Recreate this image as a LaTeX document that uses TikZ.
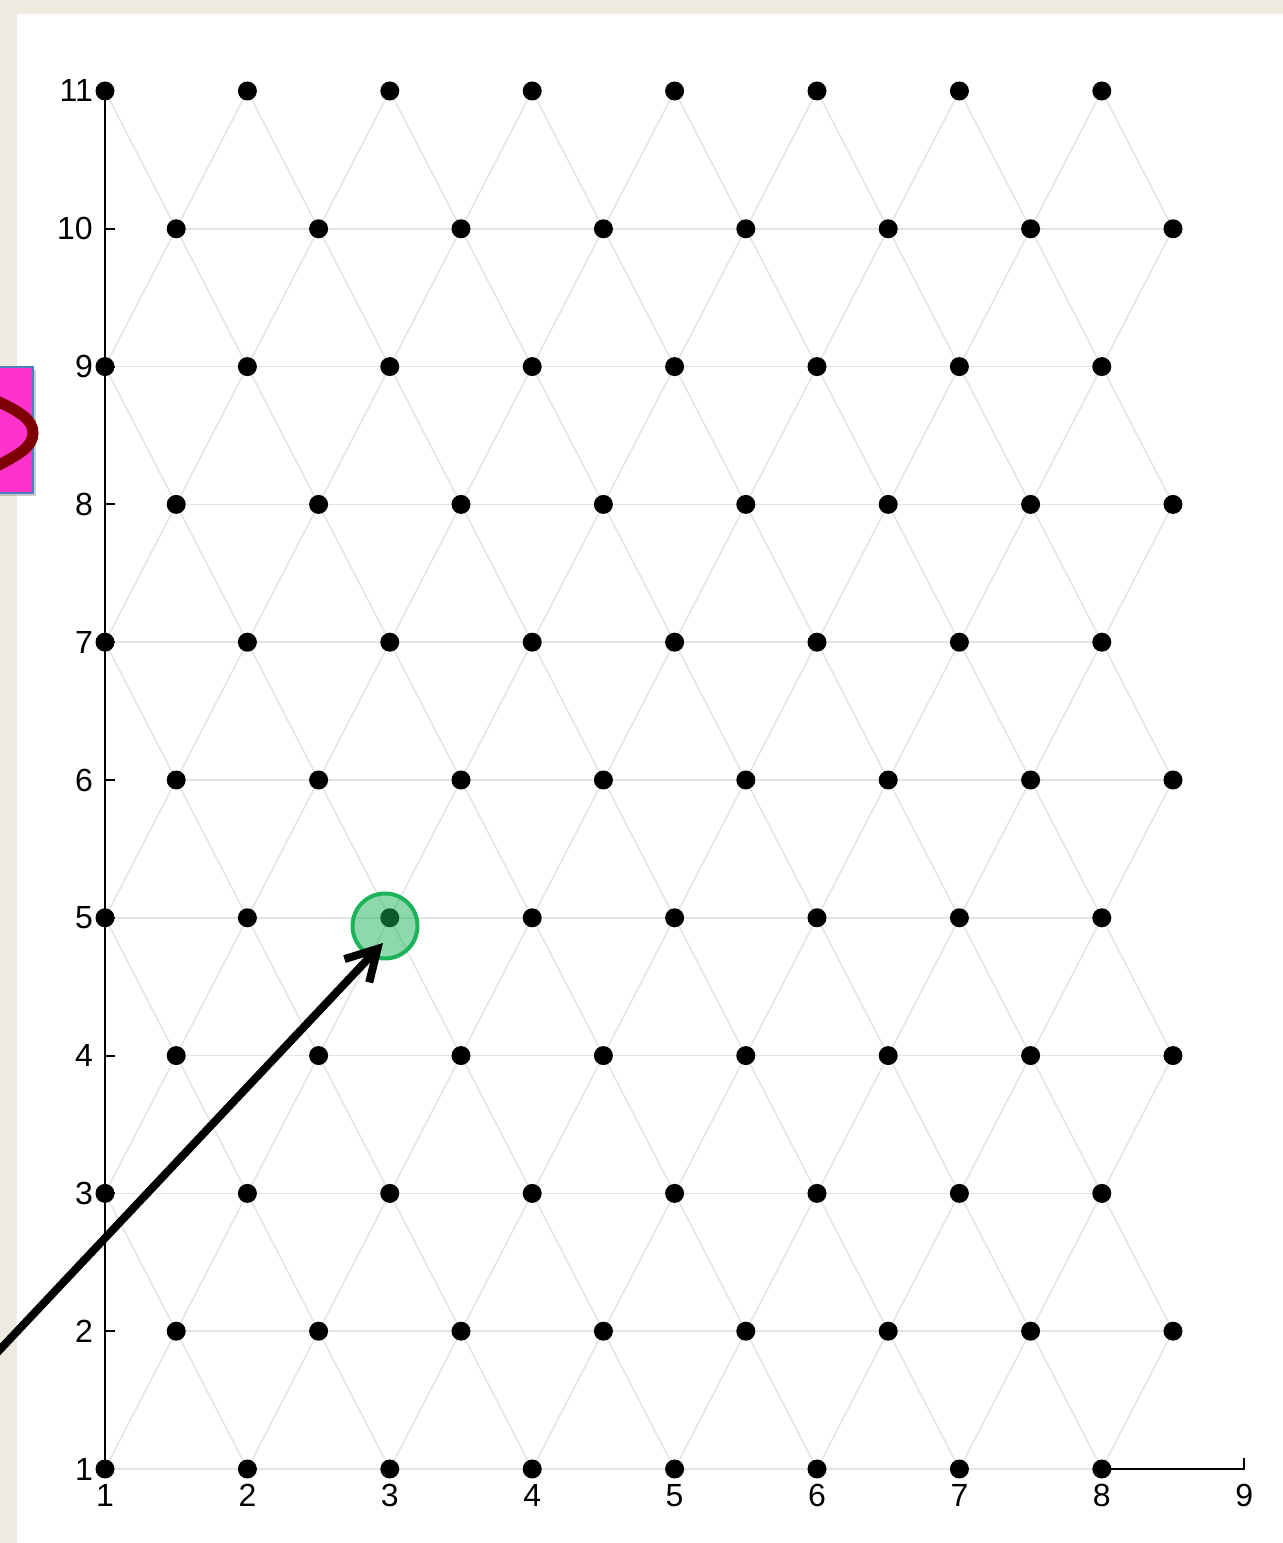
\documentclass[tikz,border=0pt]{standalone}
\usepackage{fontspec}
\setmainfont{Liberation Sans}
\usetikzlibrary{arrows.meta,shadows}
\definecolor{pagebeige}{HTML}{EDEBE0}
\definecolor{latgray}{HTML}{E4E4E4}
\definecolor{selgreen}{HTML}{1DB35A}
\definecolor{boxpink}{HTML}{FF33CC}
\definecolor{boxblue}{HTML}{4F81BD}
\definecolor{curvered}{HTML}{7F0000}

\begin{document}
\begin{tikzpicture}[x=1pt,y=1pt,>=Latex,
  dot/.style={circle,fill=black,inner sep=0pt,minimum size=19pt},
  lattice/.style={draw=latgray,line width=1.5pt},
  axis/.style={line width=2pt},
  ticklabel/.style={font=\fontsize{32}{32}\selectfont,inner sep=0pt}]
  \useasboundingbox (0,0) rectangle (1283,1543);
  \fill[pagebeige] (0,0) rectangle (1283,1543);
  \fill[white] (17,0) rectangle (1283,1529);
  % lattice in data coordinates
  \begin{scope}[x=142.4pt,y=137.8pt,shift={(-37.4pt,-63.8pt)}]
    \foreach \r in {1,...,11}
      \foreach \c in {1,...,8}{
        \pgfmathsetmacro{\xx}{\c+0.5*(1-mod(\r,2))}
        \coordinate (p-\r-\c) at (\xx,\r);
      }
    \foreach \r in {1,...,10}{
      \draw[lattice] (p-\r-1) -- (p-\r-8);
      \pgfmathtruncatemacro{\rn}{\r+1}
      \foreach \c in {1,...,8}{
        \draw[lattice] (p-\r-\c) -- (p-\rn-\c);
        \ifodd\r
          \ifnum\c>1 \pgfmathtruncatemacro{\cp}{\c-1}\draw[lattice] (p-\r-\c) -- (p-\rn-\cp);\fi
        \else
          \ifnum\c<8 \pgfmathtruncatemacro{\cn}{\c+1}\draw[lattice] (p-\r-\c) -- (p-\rn-\cn);\fi
        \fi
      }
    }
    % axes
    \draw[axis] (p-1-1) -- (p-11-1);
    \foreach \b in {2,...,10} \draw[axis] (1,\b) -- ++(10pt,0);
    \coordinate (x-end) at (9,1);
    \draw[axis] (p-1-8) -- (x-end) -- ++(0,11pt);
    \foreach \b in {1,...,11}
      \node[ticklabel,anchor=east] (yl-\b) at ([xshift=-12pt]1,\b) {\b};
    \foreach \a in {1,...,9}
      \node[ticklabel,anchor=north] (xl-\a) at ([yshift=-15pt]\a,1) {\a};
    \foreach \r in {1,...,11}
      \foreach \c in {1,...,8}
        \node[dot] (d-\r-\c) at (p-\r-\c) {};
  \end{scope}
  % highlighted point and arrow
  \node[circle,draw=selgreen,line width=4pt,fill=selgreen,fill opacity=0.5,
    minimum size=65pt,inner sep=0pt] (sel) at (385,617) {};
  \coordinate (arrow-tail) at (-8,185);
  \draw[line width=8pt,-{Straight Barb[length=30pt,width=34pt]}]
    (arrow-tail) -- ([shift={(-2pt,-17pt)}]sel.center);
  % pink box at the left edge
  \node[fill=boxpink,draw=boxblue,line width=1.5pt,
    drop shadow={shadow xshift=3pt,shadow yshift=-3pt,opacity=0.4},
    minimum width=40pt,minimum height=126pt,inner sep=0pt] (pinkbox) at (13,1113) {};
  \draw[curvered,line width=11pt] (-3,1142) .. controls (18,1132) and (33,1124) .. (33,1110)
    .. controls (33,1096) and (18,1088) .. (-3,1077);
\end{tikzpicture}
\end{document}
